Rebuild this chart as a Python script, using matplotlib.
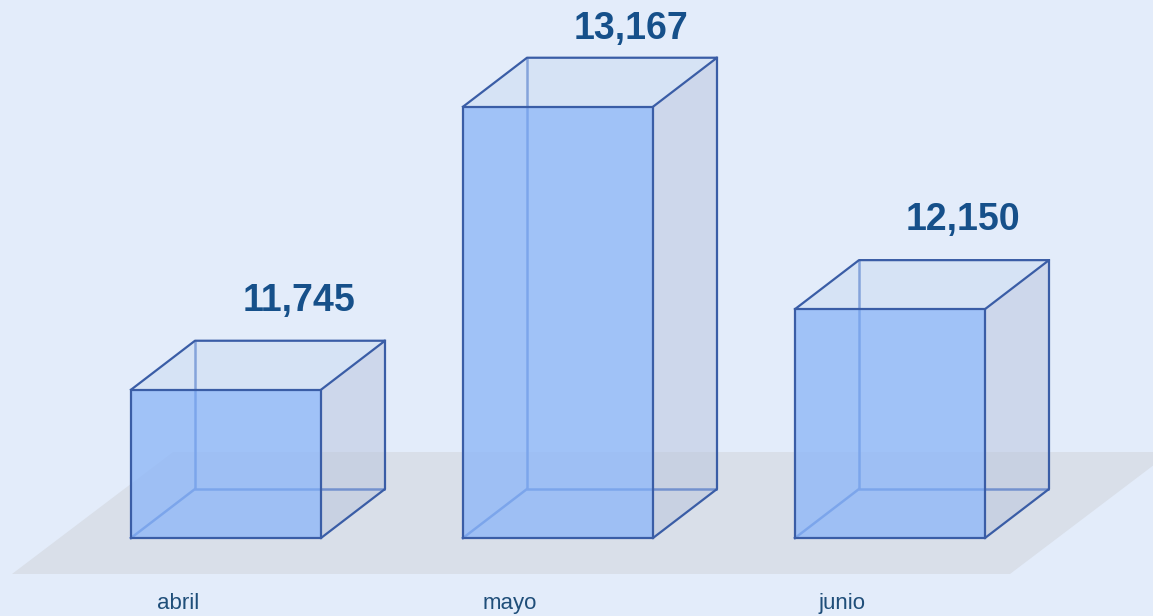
import matplotlib
matplotlib.use("Agg")
import matplotlib.pyplot as plt
from matplotlib.patches import Polygon

plt.rcParams['font.family'] = ['Liberation Sans', 'DejaVu Sans']

months = ["abril", "mayo", "junio"]
values = [11745, 13167, 12150]
base = 11000

W, H = 1153, 616
fig = plt.figure(figsize=(W / 100, H / 100), dpi=100)
fig.patch.set_facecolor("#E3ECFA")
ax = fig.add_axes([0, 0, 1, 1])
ax.set_facecolor("#E3ECFA")
ax.axis("off")

# pixel geometry of the scene
step = 332.0            # px between categories
x0 = 226.0              # px of first front-face centre
y_base = 538.0          # px of bar bottoms
px_per_unit = 283.0 / 1422.0
ax.set_xlim(-x0 / step, (W - x0) / step)
ax.set_ylim(base - (H - y_base) / px_per_unit, base + y_base / px_per_unit)

width = 190.0 / step
dx = 64.0 / step
dy = 49.0 / px_per_unit

# floor
floor = [(12, 574), (173, 452), (1171, 452), (1010, 574)]
ax.add_patch(Polygon([(x / W, 1 - y / H) for x, y in floor], closed=True,
                     transform=ax.transAxes, facecolor="#D9DFE9",
                     edgecolor="none", zorder=0))

edge = "#3A5DA6"
for i, (m, v) in enumerate(zip(months, values)):
    l, r = i - width / 2, i + width / 2
    b, t = base, v
    # hidden edges (seen through the front face)
    ax.plot([l + dx, l + dx, r + dx], [t + dy, b + dy, b + dy],
            color="#2F5FBF", lw=1.8, zorder=1, solid_capstyle="butt")
    ax.plot([l, l + dx], [b, b + dy], color="#2F5FBF", lw=1.8, zorder=1)
    # front face
    ax.add_patch(Polygon([(l, b), (r, b), (r, t), (l, t)], closed=True,
                         facecolor="#90B8F7", alpha=0.8, edgecolor="none",
                         zorder=2))
    ax.add_patch(Polygon([(l, b), (r, b), (r, t), (l, t)], closed=True,
                         fill=False, edgecolor=edge, lw=1.6, zorder=4))
    # right side face
    ax.add_patch(Polygon([(r, b), (r + dx, b + dy), (r + dx, t + dy), (r, t)],
                         closed=True, facecolor="#B8C4DD", alpha=0.5,
                         edgecolor="none", zorder=3))
    # top face
    ax.add_patch(Polygon([(l, t), (r, t), (r + dx, t + dy), (l + dx, t + dy)],
                         closed=True, facecolor="#CCDCF2", alpha=0.55,
                         edgecolor="none", zorder=3))
    ax.plot([l, l + dx, r + dx, r], [t, t + dy, t + dy, t],
            color=edge, lw=1.6, zorder=4)
    ax.plot([r + dx, r + dx, r], [t + dy, b + dy, b],
            color=edge, lw=1.6, zorder=4)

    # value label, kept inside the figure
    lx = i + dx + 9.0 / step
    ly_px = max(y_base - (v - base) * px_per_unit - 49 - 40, 29)
    ly = base + (y_base - ly_px) / px_per_unit
    ax.text(lx, ly, f"{v:,}", ha="center", va="center", fontsize=27,
            fontweight="bold", color="#16508A", zorder=5)

    # category label
    ax.text(i - 48.0 / step, base - 66.0 / px_per_unit, m, ha="center",
            va="center", fontsize=16, color="#1F4E79", zorder=5)

fig.savefig("out.png", dpi=100, facecolor=fig.get_facecolor())
